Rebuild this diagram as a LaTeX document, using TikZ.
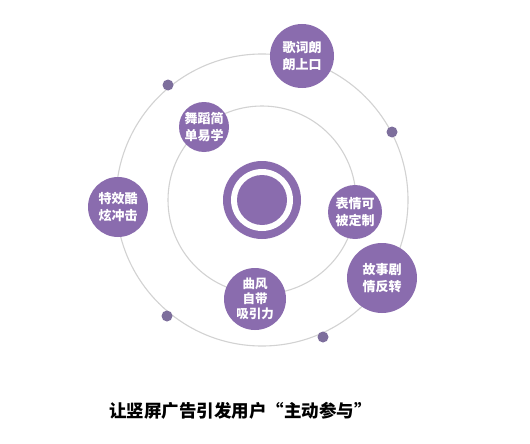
\documentclass[tikz,border=0pt]{standalone}
\usepackage{fontspec}
\newfontfamily\cjk{Noto Sans CJK SC}
\definecolor{bub}{HTML}{8A6CAE}
\definecolor{dotc}{HTML}{7D6E9C}
\definecolor{orbit}{HTML}{D2D2D2}
\begin{document}
\begin{tikzpicture}[x=1pt,y=-1pt,
  orbitline/.style={draw=orbit,line width=1.1pt},
  bubble/.style={circle,fill=bub,text=white,inner sep=0pt,align=center,
     font=\cjk\bfseries\fontsize{13}{17}\selectfont},
  smalldot/.style={circle,fill=dotc,inner sep=0pt,minimum size=11pt}]
\useasboundingbox (0,0) rectangle (530,444);
\fill[white] (0,0) rectangle (530,444);
\coordinate (c) at (262,200);
% orbits
\draw[orbitline] (c) circle[radius=146];
\draw[orbitline] (c) circle[radius=94];
% centre ring
\fill[bub] (c) circle[radius=39];
\fill[white] (c) circle[radius=31];
\node[circle,fill=bub,minimum size=50pt,inner sep=0pt] (core) at (c) {};
% bubbles
\node[bubble,minimum size=64pt] (b1) at (302,56) {歌词朗\\朗上口};
\node[bubble,minimum size=50pt] (b2) at (204,127) {舞蹈简\\单易学};
\node[bubble,minimum size=60pt] (b3) at (118,207) {特效酷\\炫冲击};
\node[bubble,minimum size=54pt] (b4) at (355,212) {表情可\\被定制};
\node[bubble,minimum size=70pt] (b5) at (382,278) {故事剧\\情反转};
\node[bubble,minimum size=62pt,font=\cjk\bfseries\fontsize{12.5}{15}\selectfont] (b6) at (255,299) {曲风\\自带\\吸引力};
% small dots
\node[smalldot] (d1) at (168,85) {};
\node[smalldot] (d2) at (392,132) {};
\node[smalldot] (d3) at (167,316) {};
\node[smalldot] (d4) at (323,337) {};
% title
\node[anchor=west,inner sep=0pt,font=\cjk\bfseries\fontsize{17.5}{21}\selectfont] (title) at (109,411) {让竖屏广告引发用户“主动参与”};
\end{tikzpicture}
\end{document}
